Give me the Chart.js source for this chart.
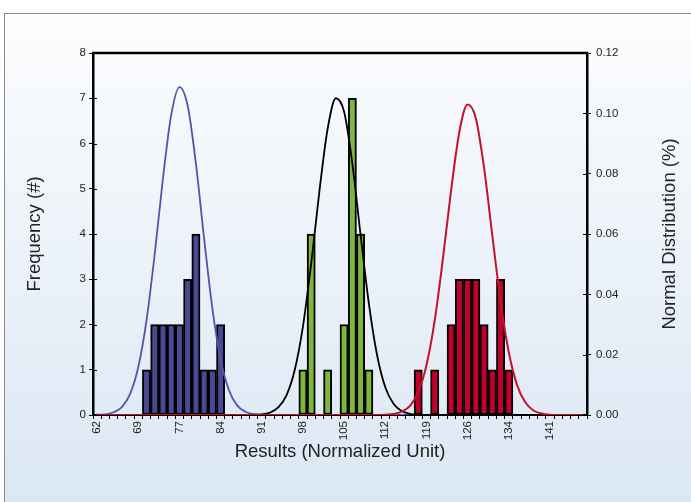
<!DOCTYPE html>
<html><head><meta charset="utf-8">
<script src="https://cdn.jsdelivr.net/npm/chart.js@4/dist/chart.umd.min.js"></script>
<style>html,body{margin:0;padding:0;background:#fff}canvas{display:block}</style>
</head><body>
<canvas id="c" width="691" height="502"></canvas>
<script>
// Tick labels shown on every 5th bin
const tickLabels = ['62','69','77','84','91','98','105','112','119','126','134','141'];

// Frequencies per bin (60 bins)
const freqBlue = [
  0,0,0,0,0,0,1,2,2,2,
  2,3,4,1,1,2,0,0,0,0,
  0,0,0,0,0,0,0,0,0,0,
  0,0,0,0,0,0,0,0,0,0,
  0,0,0,0,0,0,0,0,0,0,
  0,0,0,0,0,0,0,0,0,0];
const freqGreen = [
  0,0,0,0,0,0,0,0,0,0,
  0,0,0,0,0,0,0,0,0,0,
  0,0,0,0,0,1,4,0,1,0,
  2,7,4,1,0,0,0,0,0,0,
  0,0,0,0,0,0,0,0,0,0,
  0,0,0,0,0,0,0,0,0,0];
const freqRed = [
  0,0,0,0,0,0,0,0,0,0,
  0,0,0,0,0,0,0,0,0,0,
  0,0,0,0,0,0,0,0,0,0,
  0,0,0,0,0,0,0,0,0,1,
  0,1,0,2,3,3,3,2,1,3,
  1,0,0,0,0,0,0,0,0,0];

// Normal distribution curves (read at bin centres)
const normBlue = [
  0.0001,0.0002,0.0009,0.0026,0.0069,0.0159,0.0314,0.0534,0.0785,0.0995,
  0.1087,0.1025,0.0833,0.0584,0.0353,0.0184,0.0083,0.0032,0.0011,0.0003,
  0.0001,0,0,0,0,0,0,0,0,0,
  0,0,0,0,0,0,0,0,0,0,
  0,0,0,0,0,0,0,0,0,0,
  0,0,0,0,0,0,0,0,0,0];
const normGreen = [
  0,0,0,0,0,0,0,0,0,0,
  0,0,0,0,0,0,0,0,0,0.0001,
  0.0002,0.0008,0.0025,0.0065,0.0149,0.0294,0.0502,0.0742,0.0949,0.1050,
  0.1005,0.0833,0.0597,0.0371,0.0199,0.0092,0.0037,0.0013,0.0004,0.0001,
  0,0,0,0,0,0,0,0,0,0,
  0,0,0,0,0,0,0,0,0,0];
const normRed = [
  0,0,0,0,0,0,0,0,0,0,
  0,0,0,0,0,0,0,0,0,0,
  0,0,0,0,0,0,0,0,0,0,
  0,0,0,0,0,0.0001,0.0003,0.0011,0.0030,0.0076,
  0.0165,0.0313,0.0518,0.0746,0.0939,0.1029,0.0983,0.0819,0.0595,0.0377,
  0.0208,0.0100,0.0042,0.0015,0.0005,0.0001,0,0,0,0];

const xTitle = 'Results (Normalized Unit)';
const yTitle = 'Frequency (#)';
const y2Title = 'Normal Distribution (%)';

const categories = freqBlue.map((_, i) => (i % 5 === 0 && tickLabels[i / 5]) ? tickLabels[i / 5] : '');

const FONT = '"Liberation Sans", Arial, sans-serif';

const decor = {
  id: 'decor',
  beforeDraw(chart) {
    const ctx = chart.ctx;
    ctx.save();
    ctx.fillStyle = '#ffffff';
    ctx.fillRect(0, 0, chart.width, chart.height);
    const g = ctx.createLinearGradient(0, 13, 0, chart.height);
    g.addColorStop(0, '#fcfdfe');
    g.addColorStop(1, '#dbe7f4');
    ctx.fillStyle = g;
    ctx.fillRect(4.5, 13.5, chart.width, chart.height);
    ctx.strokeStyle = '#8c8c8c';
    ctx.lineWidth = 1;
    ctx.strokeRect(4.5, 13.5, chart.width + 20, chart.height + 20);
    ctx.restore();
  },
  afterDatasetsDraw(chart) {
    // inner halves of the crossing tick marks
    const ctx = chart.ctx;
    const a = chart.chartArea;
    const sy = chart.scales.y, sy2 = chart.scales.y2, sx = chart.scales.x;
    ctx.save();
    ctx.strokeStyle = '#000';
    ctx.lineWidth = 1;
    ctx.beginPath();
    sy.ticks.forEach((t, i) => { const y = Math.round(sy.getPixelForTick(i)) + 0.5; ctx.moveTo(a.left, y); ctx.lineTo(a.left + 4, y); });
    sy2.ticks.forEach((t, i) => { const y = Math.round(sy2.getPixelForTick(i)) + 0.5; ctx.moveTo(a.right - 4, y); ctx.lineTo(a.right, y); });
    ctx.stroke();
    ctx.restore();
  },
  afterDraw(chart) {
    const ctx = chart.ctx;
    const a = chart.chartArea;
    ctx.save();
    ctx.strokeStyle = '#000';
    ctx.lineWidth = 2.5;
    ctx.beginPath();
    ctx.moveTo(a.left - 1, a.top);
    ctx.lineTo(a.right + 1, a.top);
    ctx.stroke();
    ctx.translate(670, (a.top + a.bottom) / 2);
    ctx.rotate(-Math.PI / 2);
    ctx.font = '18.5px ' + FONT;
    ctx.fillStyle = '#222';
    ctx.textAlign = 'center';
    ctx.textBaseline = 'middle';
    ctx.fillText(y2Title, 0, 0);
    ctx.restore();
  }
};

const barBase = { grouped: false, barPercentage: 1, categoryPercentage: 1, borderColor: '#000', borderWidth: 2, borderSkipped: false, order: 10, yAxisID: 'y' };
const lineBase = { type: 'line', yAxisID: 'y2', pointRadius: 0, borderWidth: 1.8, fill: false, cubicInterpolationMode: 'monotone' };

new Chart(document.getElementById('c'), {
  type: 'bar',
  data: {
    labels: categories,
    datasets: [
      Object.assign({}, barBase, { data: freqBlue, backgroundColor: '#4a4893' }),
      Object.assign({}, barBase, { data: freqGreen, backgroundColor: '#7db83e' }),
      Object.assign({}, barBase, { data: freqRed, backgroundColor: '#c2002b' }),
      Object.assign({}, lineBase, { data: normBlue, borderColor: '#5a51a8', order: 3 }),
      Object.assign({}, lineBase, { data: normGreen, borderColor: '#000000', order: 2 }),
      Object.assign({}, lineBase, { data: normRed, borderColor: '#c8102e', order: 1, borderWidth: 2 })
    ]
  },
  options: {
    responsive: false,
    animation: false,
    layout: { padding: { top: 53, left: 0, right: 0, bottom: 0 } },
    plugins: { legend: { display: false }, tooltip: { enabled: false } },
    scales: {
      x: {
        type: 'category',
        offset: true,
        grid: { offset: true, drawOnChartArea: false, drawTicks: true, tickLength: 4, color: '#000', lineWidth: 1 },
        border: { color: '#000', width: 2 },
        ticks: { autoSkip: false, minRotation: 90, maxRotation: 90, padding: 2, color: '#222', font: { family: FONT, size: 11.5 } },
        title: { display: true, text: xTitle, color: '#222', font: { family: FONT, size: 18.5 }, padding: { top: 0, bottom: 39 } },
        afterFit(s) { s.height = 87; }
      },
      y: {
        position: 'left',
        min: 0, max: 8,
        grid: { drawOnChartArea: false, drawTicks: true, tickLength: 4, color: '#000', lineWidth: 1 },
        border: { color: '#000', width: 2.5 },
        ticks: { stepSize: 1, padding: 3, color: '#222', font: { family: FONT, size: 11.5 } },
        title: { display: true, text: yTitle, color: '#222', font: { family: FONT, size: 18.5 }, padding: { top: 24, bottom: 0 } },
        afterFit(s) { s.width = 93; }
      },
      y2: {
        position: 'right',
        min: 0, max: 0.12,
        grid: { drawOnChartArea: false, drawTicks: true, tickLength: 4, color: '#000', lineWidth: 1 },
        border: { color: '#000', width: 2.5 },
        ticks: { stepSize: 0.02, padding: 5, color: '#222', font: { family: FONT, size: 11.5 }, callback: v => Number(v).toFixed(2) },
        afterFit(s) { s.width = 104; }
      }
    }
  },
  plugins: [decor]
});
</script>
</body></html>
